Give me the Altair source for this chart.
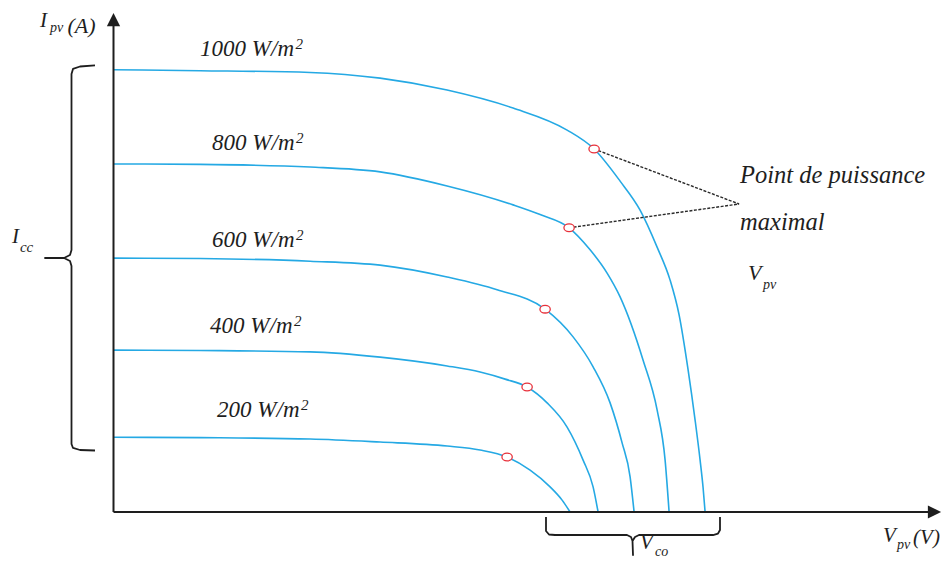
import altair as alt
import pandas as pd

# ---------------- data ----------------
# I-V curves (V in volts, I in amperes, arbitrary scale)
V_1000 = [0, 4.33, 9.83, 13.33, 16.68, 19.98, 22.68, 24.03, 25.33, 26.33, 27.18, 27.83, 28.28, 28.73, 29.08, 29.33, 29.48, 29.58]
I_1000 = [10.05, 10.03, 9.99, 9.86, 9.59, 9.18, 8.68, 8.25, 7.52, 6.86, 6.02, 5.27, 4.48, 3.23, 2.09, 1.18, 0.55, 0.0]

V_800 = [0, 4.33, 9.83, 13.33, 16.68, 19.98, 21.33, 22.78, 23.83, 24.68, 25.33, 26.48, 27.18, 27.58, 27.78]
I_800 = [7.91, 7.90, 7.84, 7.73, 7.41, 6.98, 6.76, 6.46, 5.96, 5.43, 4.89, 3.45, 2.32, 1.18, 0.0]

V_600 = [0, 4.33, 9.83, 13.33, 16.68, 19.18, 21.58, 22.98, 23.98, 24.83, 25.43, 25.83, 26.03]
I_600 = [5.77, 5.76, 5.70, 5.61, 5.34, 5.05, 4.61, 3.98, 3.30, 2.48, 1.57, 0.80, 0.0]

V_400 = [0, 4.33, 9.83, 13.33, 16.68, 18.33, 19.58, 20.68, 21.68, 22.68, 23.48, 23.98, 24.23]
I_400 = [3.68, 3.67, 3.64, 3.52, 3.32, 3.18, 3.02, 2.84, 2.48, 1.93, 1.18, 0.57, 0.0]

V_200 = [0, 4.33, 9.83, 13.33, 16.68, 18.33, 19.68, 20.83, 21.83, 22.43, 22.83]
I_200 = [1.70, 1.69, 1.66, 1.59, 1.50, 1.41, 1.25, 0.95, 0.57, 0.27, 0.0]

irradiance = ["1000", "800", "600", "400", "200"]

# maximum power points
MPP_V = [24.03, 22.78, 21.58, 20.68, 19.68]
MPP_I = [8.25, 6.46, 4.61, 2.84, 1.25]

# curve labels ("<G> W/m" + superscript 2)
label_text = ["1000 W/m", "800 W/m", "600 W/m", "400 W/m", "200 W/m"]
label_V = [4.33, 4.93, 4.93, 4.83, 5.18]
label_I = [10.36, 8.23, 6.02, 4.07, 2.16]

# annotation "Point de puissance maximal" (meeting point of the two leader lines)
ann_V, ann_I = 31.28, 7.0

# ---------------- scales ----------------
W, H = 935, 553
X_DOM = [-5.275, 41.475]
Y_DOM = [-1.1136, 11.4545]
PX_PER_V = W / (X_DOM[1] - X_DOM[0])
PX_PER_I = H / (Y_DOM[1] - Y_DOM[0])
xs = alt.Scale(domain=X_DOM, nice=False, zero=False)
ys = alt.Scale(domain=Y_DOM, nice=False, zero=False)


def X(f="V"):
    return alt.X(f"{f}:Q", scale=xs, axis=None)


def Y(f="I"):
    return alt.Y(f"{f}:Q", scale=ys, axis=None)


BLUE = "#25a9e4"
RED = "#e8303a"
INK = "#1e1e1e"
FONT = "Liberation Serif"
LABEL_FS = 23
SUP_FS = 15
# approximate advance widths (em) of Liberation Serif italic
EM = {"0": .5, "1": .5, "2": .5, "4": .5, "6": .5, "8": .5, " ": .25, "W": .833, "/": .278, "m": .722}

# ---------------- curves ----------------
rows = []
for g, vs, is_ in zip(irradiance, [V_1000, V_800, V_600, V_400, V_200],
                      [I_1000, I_800, I_600, I_400, I_200]):
    for k, (v, i) in enumerate(zip(vs, is_)):
        rows.append({"G": g, "V": v, "I": i, "k": k})
curves_df = pd.DataFrame(rows)

curves = alt.Chart(curves_df).mark_line(
    color=BLUE, strokeWidth=1.6, interpolate="monotone"
).encode(x=X(), y=Y(), detail="G:N", order="k:Q")

# leader lines (dashed)
lead_df = pd.DataFrame({
    "seg": ["a", "a", "b", "b"],
    "V": [MPP_V[0], ann_V, MPP_V[1], ann_V],
    "I": [MPP_I[0], ann_I, MPP_I[1], ann_I],
    "k": [0, 1, 0, 1],
})
leaders = alt.Chart(lead_df).mark_line(
    color="#2a2a2a", strokeWidth=1.4, strokeDash=[3, 1.5]
).encode(x=X(), y=Y(), detail="seg:N", order="k:Q")

mpp_df = pd.DataFrame({"V": MPP_V, "I": MPP_I})
mpp = alt.Chart(mpp_df).mark_point(
    shape="M-1.15,0A1.15,0.85 0 1,0 1.15,0A1.15,0.85 0 1,0 -1.15,0Z",
    filled=True, fill="white", stroke=RED, strokeWidth=1.3, size=81, opacity=1
).encode(x=X(), y=Y())

# ---------------- axes with arrows ----------------
axes_df = pd.DataFrame({
    "V": [0, 0], "I": [0, 0],
    "V2": [0, 41.1], "I2": [11.15, 0],
})
axes = alt.Chart(axes_df).mark_rule(color=INK, strokeWidth=2).encode(
    x=X(), y=Y(), x2="V2:Q", y2="I2:Q"
)
arrow_up = alt.Chart(pd.DataFrame({"V": [0], "I": [11.19]})).mark_point(
    shape="M0,-1L1,1L-1,1Z", filled=True, color=INK, size=175, opacity=1
).encode(x=X(), y=Y())
arrow_right = alt.Chart(pd.DataFrame({"V": [41.05], "I": [0]})).mark_point(
    shape="M1,0L-1,-1L-1,1Z", filled=True, color=INK, size=175, opacity=1
).encode(x=X(), y=Y())

# ---------------- braces ----------------
brace_left_V = [-0.925, -1.675, -2.025, -2.1, -2.1, -2.175, -2.475, -3.425, -2.475, -2.175, -2.1, -2.1, -2.025, -1.675, -0.925]
brace_left_I = [10.15, 10.125, 10.07, 9.955, 5.955, 5.841, 5.773, 5.773, 5.773, 5.705, 5.591, 1.545, 1.455, 1.409, 1.398]
brace_bot_V = [21.625, 21.625, 21.775, 22.075, 25.675, 25.875, 25.95, 25.975, 25.95, 26.075, 26.275, 29.975, 30.225, 30.325, 30.325]
brace_bot_I = [-0.114, -0.432, -0.511, -0.523, -0.523, -0.568, -0.659, -0.977, -0.659, -0.568, -0.523, -0.523, -0.489, -0.409, -0.114]

br_rows = []
for name, vs, is_ in [("L", brace_left_V, brace_left_I), ("B", brace_bot_V, brace_bot_I)]:
    for k, (v, i) in enumerate(zip(vs, is_)):
        br_rows.append({"b": name, "V": v, "I": i, "k": k})
braces = alt.Chart(pd.DataFrame(br_rows)).mark_line(
    color=INK, strokeWidth=1.8, strokeJoin="round"
).encode(x=X(), y=Y(), detail="b:N", order="k:Q")

# ---------------- texts ----------------
txt_rows = []
for t, v, i in zip(label_text, label_V, label_I):
    txt_rows.append({"t": t, "V": v, "I": i, "fs": LABEL_FS})
    w_px = sum(EM.get(c, .5) for c in t) * LABEL_FS
    txt_rows.append({"t": "2", "V": v + (w_px + 1.5) / PX_PER_V,
                     "I": i + 7 / PX_PER_I, "fs": SUP_FS})
txt_rows += [
    {"t": "Point de puissance", "V": 31.33, "I": 7.48, "fs": 24.5},
    {"t": "maximal", "V": 31.33, "I": 6.41, "fs": 24.5},
    {"t": "V", "V": 31.73, "I": 5.27, "fs": 22},
    {"t": "pv", "V": 32.48, "I": 5.07, "fs": 14},
    {"t": "I", "V": -3.68, "I": 11.02, "fs": 21},
    {"t": "pv", "V": -3.18, "I": 10.91, "fs": 14},
    {"t": "(A)", "V": -2.3, "I": 10.88, "fs": 22},
    {"t": "I", "V": -5.08, "I": 6.11, "fs": 21},
    {"t": "cc", "V": -4.68, "I": 5.91, "fs": 15},
    {"t": "V", "V": 26.33, "I": -0.84, "fs": 21},
    {"t": "co", "V": 27.08, "I": -0.99, "fs": 14},
    {"t": "V", "V": 38.48, "I": -0.68, "fs": 21},
    {"t": "pv", "V": 39.18, "I": -0.84, "fs": 14},
    {"t": "(V)", "V": 39.98, "I": -0.73, "fs": 21},
]
texts = alt.Chart(pd.DataFrame(txt_rows)).mark_text(
    align="left", baseline="alphabetic", font=FONT, fontStyle="italic", color=INK
).encode(x=X(), y=Y(), text="t:N", size=alt.Size("fs:Q", scale=None, legend=None))

chart = alt.layer(
    curves, leaders, mpp, axes, arrow_up, arrow_right, braces, texts
).properties(
    width=W, height=H, autosize=alt.AutoSizeParams(type="none"), padding=0
).configure_view(stroke=None)

chart.save("out.html", embed_options={"renderer": "svg", "actions": False})
